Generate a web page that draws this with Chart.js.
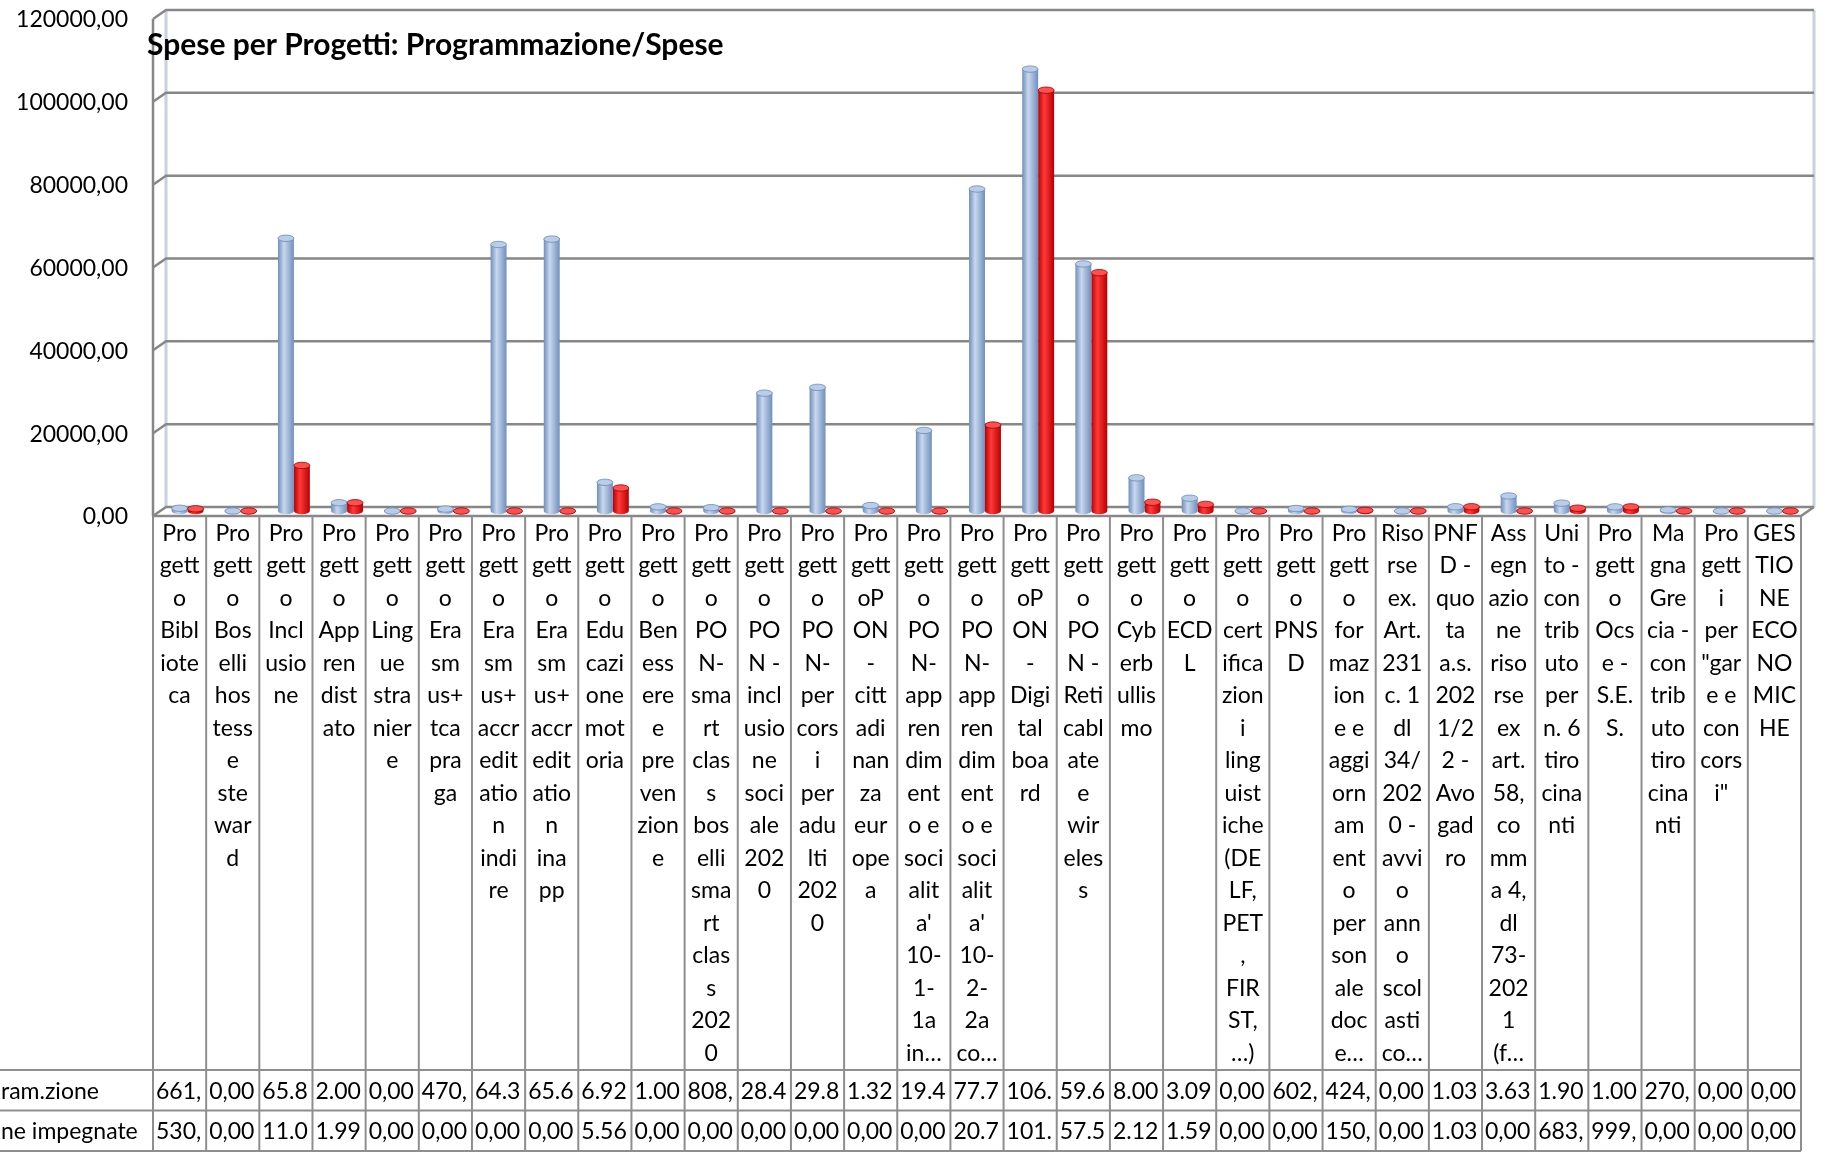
<!DOCTYPE html>
<html><head><meta charset="utf-8">
<script src="https://cdn.jsdelivr.net/npm/chart.js@4/dist/chart.umd.min.js"></script>
<style>html,body{margin:0;padding:0;background:#fff;}#wrap{width:1829px;height:1152px;}</style>
</head><body><div id="wrap"><canvas id="c" width="1829" height="1152"></canvas></div>
<script>
// ---------- DATA ----------
const chartTitle = 'Spese per Progetti: Programmazione/Spese';
const categoryLabels = [
  ["Pro","gett","o","Bibl","iote","ca"],
  ["Pro","gett","o","Bos","elli","hos","tess","e","ste","war","d"],
  ["Pro","gett","o","Incl","usio","ne"],
  ["Pro","gett","o","App","ren","dist","ato"],
  ["Pro","gett","o","Ling","ue","stra","nier","e"],
  ["Pro","gett","o","Era","sm","us+","tca","pra","ga"],
  ["Pro","gett","o","Era","sm","us+","accr","edit","atio","n","indi","re"],
  ["Pro","gett","o","Era","sm","us+","accr","edit","atio","n","ina","pp"],
  ["Pro","gett","o","Edu","cazi","one","mot","oria"],
  ["Pro","gett","o","Ben","ess","ere","e","pre","ven","zion","e"],
  ["Pro","gett","o","PO","N-","sma","rt","clas","s","bos","elli","sma","rt","clas","s","202","0"],
  ["Pro","gett","o","PO","N -","incl","usio","ne","soci","ale","202","0"],
  ["Pro","gett","o","PO","N-","per","cors","i","per","adu","lti","202","0"],
  ["Pro","gett","oP","ON","-","citt","adi","nan","za","eur","ope","a"],
  ["Pro","gett","o","PO","N-","app","ren","dim","ent","o e","soci","alit","a'","10-","1-","1a","in…"],
  ["Pro","gett","o","PO","N-","app","ren","dim","ent","o e","soci","alit","a'","10-","2-","2a","co…"],
  ["Pro","gett","oP","ON","-","Digi","tal","boa","rd"],
  ["Pro","gett","o","PO","N -","Reti","cabl","ate","e","wir","eles","s"],
  ["Pro","gett","o","Cyb","erb","ullis","mo"],
  ["Pro","gett","o","ECD","L"],
  ["Pro","gett","o","cert","ifica","zion","i","ling","uist","iche","(DE","LF,","PET",",","FIR","ST,","…)"],
  ["Pro","gett","o","PNS","D"],
  ["Pro","gett","o","for","maz","ion","e e","aggi","orn","am","ent","o","per","son","ale","doc","e…"],
  ["Riso","rse","ex.","Art.","231","c. 1","dl","34/","202","0 -","avvi","o","ann","o","scol","asti","co…"],
  ["PNF","D -","quo","ta","a.s.","202","1/2","2 -","Avo","gad","ro"],
  ["Ass","egn","azio","ne","riso","rse","ex","art.","58,","co","mm","a 4,","dl","73-","202","1","(f…"],
  ["Uni","to -","con","trib","uto","per","n. 6","tiro","cina","nti"],
  ["Pro","gett","o","Ocs","e -","S.E.","S."],
  ["Ma","gna","Gre","cia -","con","trib","uto","tiro","cina","nti"],
  ["Pro","gett","i","per","\"gar","e e","con","cors","i\""],
  ["GES","TIO","NE","ECO","NO","MIC","HE"]
];
const seriesNames = ['ram.zione', 'ne impegnate'];
const programmazione = [661, 0, 65850, 2000, 0, 470, 64350, 65650, 6920, 1000, 808, 28450, 29850, 1320, 19450, 77750, 106700, 59650, 8000, 3090, 0, 602, 424, 0, 1030, 3630, 1900, 1000, 270, 0, 0];
const impegnate = [530, 0, 11000, 1990, 0, 0, 0, 0, 5560, 0, 0, 0, 0, 0, 0, 20750, 101600, 57550, 2120, 1590, 0, 0, 150, 0, 1030, 0, 683, 999, 0, 0, 0];
const yMin = 0, yMax = 120000, yStep = 20000;

// ---------- STYLE ----------
const FONT = 'Lato, "Open Sans", sans-serif';
const FS = 23;
const CAT_PCT = 0.6;
const BACK = {dx: 5, dy: -4}, FRONT = {dx: -8, dy: 5};
const palette = [
  {base: '#95b3d7', light: '#c9d8ee', dark: '#6f8fbd', top: '#b9cde8', edge: '#6a8aba'},
  {base: '#ff0000', light: '#ff3a3a', dark: '#b80000', top: '#ff5050', edge: '#a00000'}
];

function fmtIt(v) {
  const parts = v.toFixed(2).split('.');
  return parts[0].replace(/\B(?=(\d{3})+(?!\d))/g, '.') + ',' + parts[1];
}
function cellText(v) { return fmtIt(v).slice(0, 4); }

function barFill(di) {
  const p = palette[di];
  return (ctx) => {
    const ch = ctx.chart, xs = ch.scales.x;
    if (!xs || !ch.chartArea || ctx.type !== 'data') return p.base;
    const cw = xs.width / categoryLabels.length;
    const bw = cw * CAT_PCT / 2;
    const cx = xs.getPixelForValue(ctx.dataIndex) + (di === 0 ? -bw / 2 : bw / 2);
    const g = ch.ctx.createLinearGradient(cx - bw / 2, 0, cx + bw / 2, 0);
    g.addColorStop(0, p.dark); g.addColorStop(0.38, p.light); g.addColorStop(1, p.dark);
    return g;
  };
}

const framePlugin = {
  id: 'frame',
  beforeDatasetsDraw(chart) {
    const c = chart.ctx, ca = chart.chartArea, ys = chart.scales.y;
    c.save();
    c.lineCap = 'butt';
    const yt = ys.getPixelForValue(yMax), yb = ys.getPixelForValue(yMin);
    c.strokeStyle = '#c8d2df'; c.lineWidth = 3;
    c.beginPath(); c.moveTo(ca.left + BACK.dx, yt + BACK.dy); c.lineTo(ca.left + BACK.dx, yb + BACK.dy); c.stroke();
    c.beginPath(); c.moveTo(ca.right + BACK.dx, yt + BACK.dy); c.lineTo(ca.right + BACK.dx, yb + BACK.dy); c.stroke();
    c.strokeStyle = '#878787'; c.lineWidth = 2.5;
    ys.ticks.forEach(t => {
      const y = ys.getPixelForValue(t.value);
      c.beginPath();
      c.moveTo(ca.left + FRONT.dx, y + FRONT.dy);
      c.lineTo(ca.left + BACK.dx, y + BACK.dy);
      c.lineTo(ca.right + BACK.dx, y + BACK.dy);
      c.stroke();
    });
    c.beginPath(); c.moveTo(ca.left + FRONT.dx, yt + FRONT.dy); c.lineTo(ca.left + FRONT.dx, yb + FRONT.dy); c.stroke();
    c.beginPath();
    c.moveTo(ca.left + FRONT.dx, yb + FRONT.dy);
    c.lineTo(ca.right + FRONT.dx, yb + FRONT.dy);
    c.lineTo(ca.right + BACK.dx, yb + BACK.dy);
    c.stroke();
    c.restore();
  },
  afterDatasetsDraw(chart) {
    const c = chart.ctx;
    chart.data.datasets.forEach((ds, di) => {
      const p = palette[di];
      const meta = chart.getDatasetMeta(di);
      meta.data.forEach(el => {
        const pr = el.getProps(['x', 'y', 'base', 'width'], true);
        const rx = pr.width / 2, ry = 3.2;
        const g = c.createLinearGradient(pr.x - rx, 0, pr.x + rx, 0);
        g.addColorStop(0, p.dark); g.addColorStop(0.38, p.light); g.addColorStop(1, p.dark);
        c.save();
        c.beginPath(); c.ellipse(pr.x, pr.base, rx, ry, 0, 0, Math.PI); c.fillStyle = g; c.fill();
        c.beginPath(); c.ellipse(pr.x, pr.y, rx, ry, 0, 0, Math.PI * 2);
        c.fillStyle = p.top; c.fill();
        c.strokeStyle = p.edge; c.lineWidth = 0.8; c.stroke();
        c.restore();
      });
    });
  },
  afterDraw(chart) {
    const c = chart.ctx, ca = chart.chartArea, xs = chart.scales.x, ys = chart.scales.y;
    const n = categoryLabels.length;
    const cw = (ca.right - ca.left) / n;
    const x0 = ca.left + FRONT.dx;
    const headTop = ys.getPixelForValue(yMin) + FRONT.dy;
    const headBottom = xs.bottom;
    const rowH = 40.5;
    const rowsBottom = [headBottom + rowH, headBottom + 2 * rowH];
    c.save();
    c.strokeStyle = '#8e8e8e'; c.lineWidth = 2;
    for (let i = 0; i <= n; i++) {
      const x = x0 + i * cw;
      c.beginPath(); c.moveTo(x, headTop); c.lineTo(x, rowsBottom[1]); c.stroke();
    }
    [headBottom, rowsBottom[0], rowsBottom[1]].forEach(y => {
      c.beginPath(); c.moveTo(0, y); c.lineTo(x0 + n * cw, y); c.stroke();
    });
    c.fillStyle = '#000';
    c.font = FS + 'px ' + FONT;
    c.textBaseline = 'middle';
    const rows = [programmazione, impegnate];
    rows.forEach((vals, r) => {
      const yMid = headBottom + rowH * r + rowH / 2 + 1;
      c.textAlign = 'left';
      c.fillText(seriesNames[r], 1, yMid);
      vals.forEach((v, i) => {
        const cx = x0 + i * cw;
        c.save();
        c.beginPath(); c.rect(cx + 1, yMid - rowH / 2, cw - 2, rowH); c.clip();
        c.fillText(cellText(v), cx + 3, yMid);
        c.restore();
      });
    });
    c.font = 'bold 30px ' + FONT;
    c.textAlign = 'left';
    c.fillText(chartTitle, 147, 45);
    c.restore();
  }
};

Chart.defaults.font.family = FONT;
Chart.defaults.font.size = FS;
Chart.defaults.color = '#000';

new Chart(document.getElementById('c'), {
  type: 'bar',
  data: {
    labels: categoryLabels,
    datasets: [
      {label: seriesNames[0], data: programmazione, backgroundColor: barFill(0), borderWidth: 0},
      {label: seriesNames[1], data: impegnate, backgroundColor: barFill(1), borderWidth: 0}
    ]
  },
  options: {
    responsive: false,
    animation: false,
    devicePixelRatio: 1,
    layout: {padding: {left: 0, right: 20, top: 14, bottom: 82}},
    datasets: {bar: {categoryPercentage: CAT_PCT, barPercentage: 1.0}},
    plugins: {legend: {display: false}, title: {display: false}, tooltip: {enabled: false}},
    scales: {
      x: {
        grid: {display: false, drawTicks: false},
        border: {display: false},
        ticks: {
          autoSkip: false, maxRotation: 0, minRotation: 0,
          padding: 6, labelOffset: -8,
          font: {size: FS, lineHeight: 1.413}
        },
        afterFit(scale) { scale.height = 559; scale.paddingLeft = 0; scale.paddingRight = 0; }
      },
      y: {
        min: yMin, max: yMax,
        grid: {display: false, drawTicks: false},
        border: {display: false},
        ticks: {
          stepSize: yStep, padding: 33, labelOffset: 6,
          font: {size: FS},
          callback: v => Number(v).toFixed(2).replace('.', ',')
        },
        afterFit(scale) { scale.width = 161; scale.paddingTop = 0; scale.paddingBottom = 0; }
      }
    }
  },
  plugins: [framePlugin]
});
</script></body></html>
